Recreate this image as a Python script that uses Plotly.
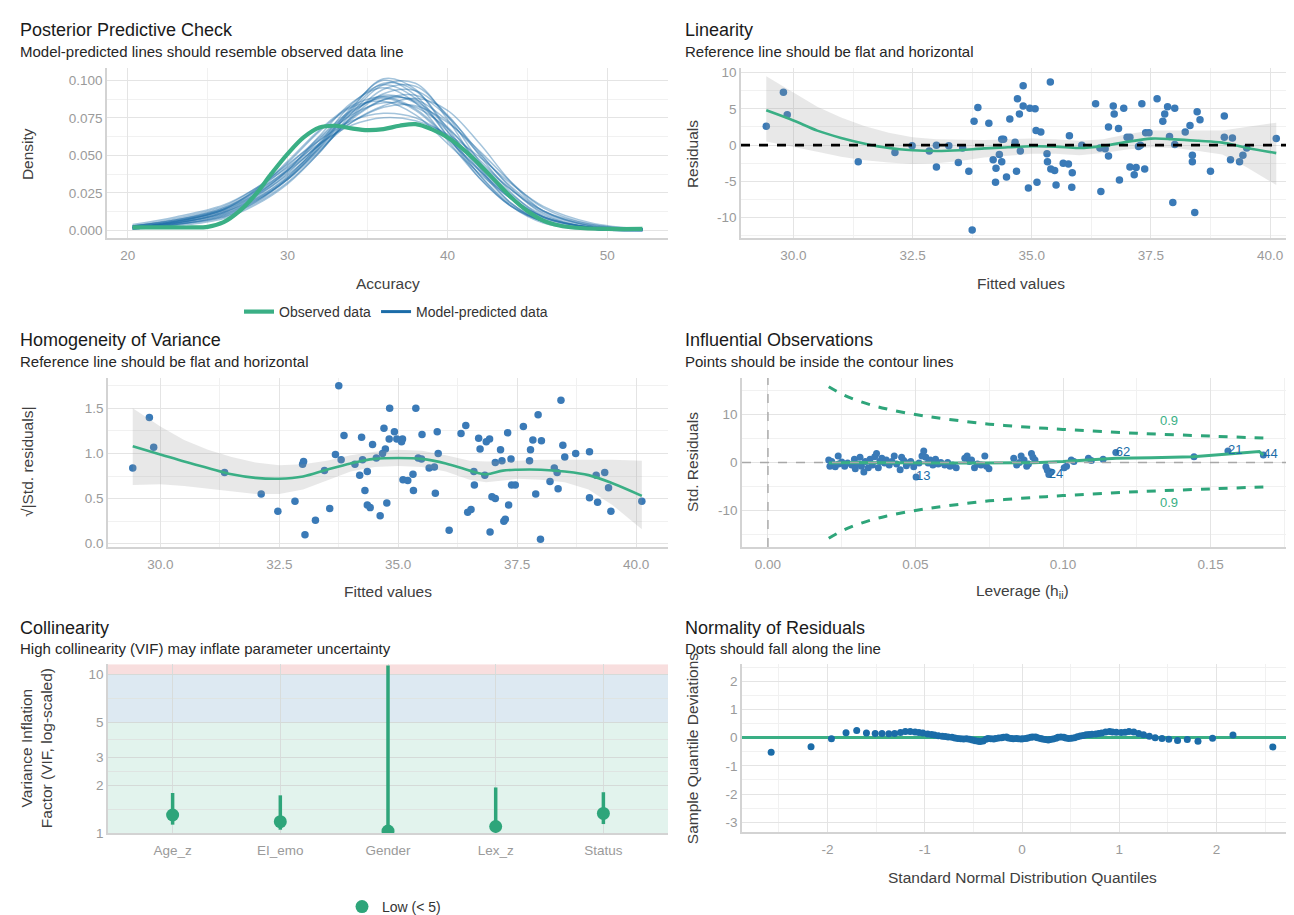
import plotly.graph_objects as go

W, H = 1294, 915
FONT = "Liberation Sans, Arial, sans-serif"
GREEN = "#3aaf85"
BLUE = "#1b6ca8"
PT = "#3a7ab7"

# ---------------- Panel 1: Posterior predictive check ----------------
obs_x = [20.3, 21, 22, 23, 24, 25, 26, 27, 28, 29, 30, 31, 32, 33, 34, 35, 36, 37, 38,
         39, 40, 41, 42, 43, 44, 45, 46, 47, 48, 50, 52.2]
obs_density = [0.002, 0.002, 0.002, 0.002, 0.002, 0.0024, 0.0055, 0.013, 0.024, 0.038,
               0.051, 0.062, 0.0686, 0.0697, 0.068, 0.0668, 0.0675, 0.0697, 0.0708, 0.0675,
               0.062, 0.054, 0.044, 0.033, 0.022, 0.013, 0.0066, 0.0033, 0.0018, 0.001, 0.001]
sim_x = [20.3, 23, 26, 28, 30, 32, 34, 36, 38, 40, 42, 44, 46, 49, 52.2]
sim_density = [
    [0.002, 0.005, 0.012, 0.022, 0.038, 0.058, 0.078, 0.090, 0.085, 0.066, 0.042, 0.022, 0.009, 0.002, 0.001],
    [0.003, 0.006, 0.014, 0.026, 0.043, 0.062, 0.080, 0.088, 0.080, 0.061, 0.040, 0.021, 0.009, 0.002, 0.001],
    [0.001, 0.004, 0.010, 0.020, 0.034, 0.055, 0.080, 0.098, 0.093, 0.068, 0.040, 0.018, 0.006, 0.001, 0.000],
    [0.002, 0.005, 0.011, 0.021, 0.036, 0.057, 0.082, 0.100, 0.090, 0.063, 0.035, 0.016, 0.006, 0.001, 0.000],
    [0.003, 0.008, 0.016, 0.028, 0.044, 0.060, 0.073, 0.078, 0.075, 0.063, 0.045, 0.027, 0.013, 0.004, 0.001],
    [0.002, 0.006, 0.013, 0.024, 0.040, 0.060, 0.077, 0.085, 0.082, 0.068, 0.047, 0.027, 0.012, 0.003, 0.001],
    [0.001, 0.004, 0.009, 0.018, 0.032, 0.052, 0.076, 0.094, 0.096, 0.076, 0.046, 0.021, 0.007, 0.001, 0.000],
    [0.002, 0.005, 0.012, 0.023, 0.040, 0.063, 0.085, 0.095, 0.085, 0.060, 0.035, 0.016, 0.006, 0.001, 0.000],
    [0.004, 0.009, 0.017, 0.028, 0.042, 0.058, 0.070, 0.075, 0.073, 0.064, 0.049, 0.031, 0.016, 0.005, 0.001],
    [0.001, 0.003, 0.008, 0.017, 0.031, 0.052, 0.078, 0.097, 0.098, 0.074, 0.042, 0.018, 0.006, 0.001, 0.000],
    [0.002, 0.006, 0.013, 0.023, 0.037, 0.055, 0.074, 0.087, 0.090, 0.076, 0.052, 0.028, 0.011, 0.002, 0.001],
    [0.003, 0.007, 0.015, 0.027, 0.045, 0.066, 0.082, 0.086, 0.077, 0.058, 0.038, 0.021, 0.009, 0.002, 0.001],
    [0.001, 0.004, 0.010, 0.019, 0.034, 0.056, 0.081, 0.101, 0.094, 0.066, 0.037, 0.016, 0.005, 0.001, 0.000],
    [0.002, 0.005, 0.012, 0.021, 0.035, 0.054, 0.072, 0.083, 0.088, 0.080, 0.058, 0.032, 0.013, 0.003, 0.001],
    [0.002, 0.006, 0.014, 0.025, 0.041, 0.061, 0.079, 0.089, 0.086, 0.069, 0.045, 0.024, 0.010, 0.002, 0.001],
    [0.003, 0.007, 0.015, 0.026, 0.040, 0.057, 0.072, 0.082, 0.083, 0.072, 0.053, 0.032, 0.015, 0.004, 0.001],
    [0.002, 0.006, 0.014, 0.027, 0.046, 0.067, 0.083, 0.089, 0.081, 0.062, 0.040, 0.021, 0.008, 0.002, 0.001],
    [0.001, 0.004, 0.009, 0.019, 0.035, 0.058, 0.084, 0.097, 0.088, 0.063, 0.037, 0.017, 0.006, 0.001, 0.000],
    [0.002, 0.005, 0.011, 0.020, 0.034, 0.053, 0.075, 0.091, 0.093, 0.077, 0.050, 0.025, 0.009, 0.002, 0.000],
    [0.003, 0.007, 0.014, 0.024, 0.039, 0.057, 0.075, 0.087, 0.087, 0.073, 0.051, 0.029, 0.013, 0.003, 0.001],
]

# ---------------- Panel 2: Linearity ----------------
lin_fitted = [29.43, 29.79, 29.87, 31.36, 32.13, 32.49, 32.85, 33.0, 33.0, 33.26,
              33.46, 33.55, 33.68, 33.79, 33.75, 33.87, 34.1, 34.19, 34.25, 34.24,
              34.32, 34.37, 34.37, 34.41, 34.47, 34.54, 34.65, 34.68, 34.70, 34.74,
              34.76, 34.82, 34.82, 34.93, 34.96, 35.07, 35.09, 35.11, 35.19, 35.32,
              35.33, 35.39, 35.40, 35.48, 35.51, 35.66, 35.79, 35.77, 35.85, 35.84,
              36.05, 36.34, 36.43, 36.45, 36.54, 36.61, 36.61, 36.71, 36.73, 36.82,
              36.84, 36.93, 37.0, 37.06, 37.06, 37.15, 37.19, 37.24, 37.28, 37.31,
              37.37, 37.39, 37.46, 37.63, 37.75, 37.79, 37.85, 37.89, 37.96, 38.0,
              38.0, 38.22, 38.32, 38.37, 38.37, 38.47, 38.53, 38.42, 38.75, 39.04,
              39.04, 39.17, 39.21, 39.36, 39.43, 39.51, 40.13]
lin_resid = [2.6, 7.3, 4.2, -2.3, -1.0, -0.1, -0.8, 0.0, -3.0, -0.1,
             -2.4, -0.4, -3.6, 3.3, -11.7, 5.2, 3.0, -2.0, -3.2, -5.1,
             -1.3, 0.8, -2.3, 0.8, -4.4, 3.6, 0.4, -3.6, 6.4, 4.3,
             -0.8, 5.4, 8.2, -5.9, 5.1, 5.0, 2.0, -5.1, 1.8, -1.2,
             -2.3, 8.7, -3.3, -3.5, -5.5, -2.5, 1.3, -2.6, -3.8, -5.8,
             0.0, 5.7, -0.4, -6.4, -0.5, -1.5, 2.5, 5.4, 4.3, 2.3,
             -4.8, 5.1, 1.1, -3.0, 1.1, -4.1, -3.1, -0.2, 0.0, 5.7,
             -3.3, 1.7, 1.7, 6.4, 3.3, 4.3, 5.3, 1.2, -7.9, 0.1,
             5.1, 1.8, 2.7, -1.4, -2.3, 4.6, 3.5, -9.3, -3.6, 4.0,
             1.1, -2.0, 1.0, -2.3, -1.4, -0.4, 0.9]
lin_smooth_x = [29.43, 30.0, 30.5, 31.0, 31.5, 32.0, 32.5, 33.0, 33.5, 34.0, 34.5,
                35.0, 35.5, 36.0, 36.5, 37.0, 37.5, 38.0, 38.5, 39.0, 39.5, 40.13]
lin_smooth_y = [4.8, 3.4, 2.0, 1.0, 0.2, -0.4, -0.7, -0.8, -0.7, -0.45, -0.3,
                -0.15, -0.2, -0.4, -0.1, 0.45, 0.9, 0.8, 0.6, 0.35, -0.35, -1.1]
lin_ci_hi = [9.5, 7.2, 5.3, 3.8, 2.6, 1.7, 1.1, 0.8, 0.7, 0.7, 0.8,
             0.9, 0.8, 0.6, 0.8, 1.5, 2.0, 2.0, 1.9, 2.0, 2.5, 3.1]
lin_ci_lo = [0.5, -0.2, -0.9, -1.6, -2.1, -2.4, -2.6, -2.5, -2.2, -1.7, -1.4,
             -1.2, -1.2, -1.4, -1.1, -0.6, -0.3, -0.4, -0.8, -1.3, -3.0, -5.5]

# ---------------- Panel 3: Homogeneity of variance ----------------
hom_fitted = [29.42, 29.77, 29.86, 31.35, 32.12, 32.47, 32.83, 32.99, 33.01, 33.04,
              33.26, 33.45, 33.56, 33.68, 33.75, 33.80, 33.86, 34.09, 34.19, 34.23,
              34.25, 34.30, 34.35, 34.35, 34.41, 34.46, 34.54, 34.62, 34.67, 34.70,
              34.73, 34.76, 34.81, 34.82, 34.92, 34.97, 35.07, 35.09, 35.10, 35.20,
              35.31, 35.32, 35.37, 35.42, 35.49, 35.50, 35.65, 35.76, 35.78, 35.82,
              35.84, 36.07, 36.32, 36.42, 36.46, 36.53, 36.59, 36.60, 36.69, 36.72,
              36.82, 36.85, 36.92, 36.93, 36.97, 37.04, 37.04, 37.15, 37.18, 37.22,
              37.25, 37.30, 37.32, 37.37, 37.38, 37.46, 37.63, 37.76, 37.78, 37.83,
              37.89, 37.94, 37.99, 38.01, 38.19, 38.28, 38.34, 38.36, 38.42, 38.46,
              38.50, 38.73, 39.02, 39.02, 39.16, 39.19, 39.34, 39.42, 39.47, 40.12]
hom_sqrt_res = [0.84, 1.40, 1.07, 0.79, 0.55, 0.36, 0.47, 0.88, 0.91, 0.10,
                0.26, 0.81, 0.39, 0.99, 1.75, 0.93, 1.20, 0.88, 0.76, 1.18,
                0.93, 0.59, 0.80, 0.43, 0.40, 1.10, 0.95, 0.31, 1.00, 1.28,
                1.05, 0.45, 1.16, 1.50, 1.24, 1.16, 1.13, 1.16, 0.71, 0.70,
                0.77, 0.59, 1.50, 0.95, 0.94, 1.21, 0.84, 0.85, 0.56, 1.24,
                1.00, 0.15, 1.22, 1.31, 0.35, 0.38, 0.80, 0.65, 1.17, 1.05,
                0.76, 1.13, 1.16, 0.13, 0.52, 0.50, 0.90, 1.04, 0.92, 0.25,
                0.27, 1.23, 0.43, 0.94, 0.65, 0.65, 1.30, 0.92, 1.04, 1.15,
                0.55, 1.43, 0.05, 1.14, 0.69, 0.84, 0.79, 0.61, 1.59, 1.09,
                0.96, 1.00, 1.02, 0.51, 0.76, 0.46, 0.79, 0.62, 0.36, 0.47]
hom_smooth_x = [29.42, 30.0, 30.5, 31.0, 31.5, 32.0, 32.5, 33.0, 33.5, 34.0, 34.5, 35.0,
                35.5, 36.0, 36.5, 36.85, 37.2, 37.5, 38.0, 38.5, 39.0, 39.5, 40.12]
hom_smooth_y = [1.08, 0.99, 0.91, 0.84, 0.77, 0.73, 0.72, 0.745, 0.82, 0.89, 0.94, 0.95,
                0.94, 0.89, 0.81, 0.77, 0.81, 0.82, 0.82, 0.80, 0.76, 0.67, 0.53]
hom_ci_hi = [1.50, 1.30, 1.15, 1.04, 0.96, 0.90, 0.87, 0.88, 0.92, 0.98, 1.02, 1.04,
             1.03, 0.98, 0.92, 0.91, 0.91, 0.92, 0.93, 0.93, 0.93, 0.93, 0.92]
hom_ci_lo = [0.65, 0.66, 0.64, 0.61, 0.58, 0.55, 0.55, 0.60, 0.70, 0.80, 0.85, 0.86,
             0.85, 0.80, 0.71, 0.68, 0.70, 0.72, 0.71, 0.68, 0.60, 0.43, 0.16]

# ---------------- Panel 4: Influential observations ----------------
leverage = [0.0206, 0.0210, 0.0216, 0.0228, 0.0238, 0.0240, 0.0250, 0.0260, 0.0270, 0.0284,
            0.0293, 0.0296, 0.0305, 0.0312, 0.0317, 0.0325, 0.0330, 0.0340, 0.0346, 0.0354,
            0.0362, 0.0368, 0.0374, 0.0379, 0.0386, 0.0395, 0.0401, 0.0411, 0.0420, 0.0428,
            0.0436, 0.0448, 0.0453, 0.0460, 0.0469, 0.0475, 0.0484, 0.0494, 0.0502, 0.0512,
            0.0522, 0.0528, 0.0535, 0.0543, 0.0550, 0.0559, 0.0568, 0.0577, 0.0586, 0.0599,
            0.0609, 0.0617, 0.0626, 0.0638, 0.0667, 0.0675, 0.0683, 0.0690, 0.0700, 0.0710,
            0.0722, 0.0735, 0.0741, 0.0749, 0.0833, 0.0843, 0.0852, 0.0858, 0.0868, 0.0877,
            0.0883, 0.0893, 0.0898, 0.0905, 0.0942, 0.0947, 0.0952, 0.0959, 0.1004, 0.1012,
            0.1028, 0.1037, 0.1086, 0.1096, 0.1136, 0.1179, 0.1444, 0.1559, 0.1679]
std_resid = [0.5, -0.8, 0.2, -0.9, 1.35, -0.3, 0.1, -0.8, -0.1, -0.5,
             0.7, -1.3, -0.3, 1.1, -0.8, -2.0, 0.2, -1.1, 0.7, -0.5,
             1.2, 1.9, -1.1, 0.2, 0.9, -0.1, 0.5, -0.5, 0.2, 1.35,
             -0.3, -1.5, 1.1, 0.4, -0.7, -0.1, 0.2, -0.9, -3.0, -0.1,
             1.35, 2.4, 1.1, -0.1, 0.5, -0.5, 0.7, -0.3, 0.0, -0.5,
             0.0, -0.8, -0.5, -1.1, 0.9, 1.35, 0.2, 0.5, -1.1, -0.3,
             -0.5, 1.35, -0.8, -1.3, 0.9, -0.5, 0.0, 1.35, 0.5, -0.8,
             -0.3, 1.9, 1.1, 0.5, -0.9, -1.6, -2.5, -2.0, -1.1, -0.8,
             0.5, 0.2, 0.9, 0.4, 0.7, 2.1, 1.2, 2.4, 1.55]
label_lev = [0.0502, 0.0952, 0.1179, 0.1559, 0.1679]
label_res = [-3.0, -2.5, 2.1, 2.4, 1.55]
label_ids = ["13", "24", "62", "21", "44"]
infl_smooth_x = [0.0206, 0.03, 0.04, 0.05, 0.06, 0.07, 0.08, 0.09, 0.10, 0.11, 0.118,
                 0.13, 0.144, 0.156, 0.1665, 0.1679]
infl_smooth_y = [-0.1, 0.0, -0.05, -0.15, -0.1, -0.1, -0.1, -0.05, 0.2, 0.6, 0.9,
                 1.0, 1.2, 1.75, 2.3, 1.55]
contour_lev = [0.0206, 0.025, 0.03, 0.035, 0.04, 0.05, 0.06, 0.075, 0.09, 0.10, 0.125, 0.15, 0.1679]
contour_upper = [15.8, 14.3, 13.0, 12.0, 11.2, 10.0, 9.1, 8.0, 7.3, 6.9, 6.1, 5.5, 5.1]
contour_lower = [-15.8, -14.3, -13.0, -12.0, -11.2, -10.0, -9.1, -8.0, -7.3, -6.9, -6.1, -5.5, -5.1]
contour_label = "0.9"

# ---------------- Panel 5: Collinearity ----------------
terms = ["Age_z", "EI_emo", "Gender", "Lex_z", "Status"]
vif = [1.30, 1.18, 1.03, 1.10, 1.33]
vif_lo = [1.13, 1.05, 1.00, 1.02, 1.14]
vif_hi = [1.79, 1.73, 11.4, 1.94, 1.81]

# ---------------- Panel 6: Normality of residuals (detrended QQ) ----------------
qq_theoretical = [-2.58, -2.17, -1.96, -1.81, -1.70, -1.60, -1.51, -1.44, -1.37, -1.31,
                  -1.25, -1.20, -1.15, -1.10, -1.06, -1.02, -0.97, -0.93, -0.90, -0.86,
                  -0.82, -0.79, -0.76, -0.72, -0.69, -0.66, -0.63, -0.60, -0.57, -0.54,
                  -0.51, -0.48, -0.45, -0.43, -0.40, -0.37, -0.35, -0.32, -0.29, -0.27,
                  -0.24, -0.21, -0.19, -0.16, -0.14, -0.11, -0.09, -0.06, -0.04, -0.01,
                  0.01, 0.04, 0.06, 0.09, 0.11, 0.14, 0.16, 0.19, 0.21, 0.24,
                  0.27, 0.29, 0.32, 0.35, 0.37, 0.40, 0.43, 0.45, 0.48, 0.51,
                  0.54, 0.57, 0.60, 0.63, 0.66, 0.69, 0.72, 0.76, 0.79, 0.82,
                  0.86, 0.90, 0.93, 0.97, 1.02, 1.06, 1.10, 1.15, 1.20, 1.25,
                  1.31, 1.37, 1.44, 1.51, 1.60, 1.70, 1.81, 1.96, 2.17, 2.58]
qq_deviation = [-0.52, -0.32, -0.04, 0.17, 0.25, 0.16, 0.15, 0.15, 0.14, 0.15,
                0.18, 0.22, 0.22, 0.20, 0.18, 0.16, 0.13, 0.11, 0.09, 0.07,
                0.05, 0.04, 0.02, 0.01, -0.01, -0.03, -0.04, -0.05, -0.04, -0.06,
                -0.08, -0.11, -0.13, -0.14, -0.12, -0.06, -0.03, -0.04, -0.05, -0.03,
                -0.01, 0.00, 0.01, 0.02, -0.01, -0.03, -0.04, -0.03, -0.04, -0.05,
                -0.04, -0.03, -0.01, 0.01, 0.02, 0.02, 0.00, -0.03, -0.05, -0.07,
                -0.08, -0.07, -0.05, -0.02, 0.01, 0.02, 0.01, -0.01, -0.03, -0.02,
                0.00, 0.03, 0.06, 0.08, 0.10, 0.11, 0.12, 0.13, 0.15, 0.16,
                0.20, 0.22, 0.20, 0.19, 0.18, 0.19, 0.22, 0.20, 0.15, 0.10,
                0.05, 0.00, -0.03, -0.06, -0.10, -0.07, -0.13, -0.02, 0.09, -0.33]

# =====================================================================
def X(p):
    return p / W


def Y(p):
    return 1 - p / H


fig = go.Figure()

# Panel 1
for dens in sim_density:
    fig.add_trace(go.Scatter(x=sim_x, y=dens, mode="lines", xaxis="x", yaxis="y",
                             line=dict(color="rgba(27,108,168,0.4)", width=1.5, shape="spline"),
                             showlegend=False, hoverinfo="skip"))
fig.add_trace(go.Scatter(x=obs_x, y=obs_density, mode="lines", xaxis="x", yaxis="y",
                         line=dict(color=GREEN, width=4.2, shape="spline"),
                         name="Observed data", legend="legend", legendrank=1))
fig.add_trace(go.Scatter(x=[None], y=[None], mode="lines", xaxis="x", yaxis="y",
                         line=dict(color=BLUE, width=3), name="Model-predicted data",
                         legend="legend", legendrank=2))

# Panel 2
fig.add_trace(go.Scatter(x=lin_fitted, y=lin_resid, mode="markers", xaxis="x2", yaxis="y2",
                         marker=dict(color=PT, size=7.5), showlegend=False))
fig.add_trace(go.Scatter(x=lin_smooth_x, y=lin_ci_hi, mode="lines", xaxis="x2", yaxis="y2",
                         line=dict(width=0), showlegend=False, hoverinfo="skip"))
fig.add_trace(go.Scatter(x=lin_smooth_x, y=lin_ci_lo, mode="lines", xaxis="x2", yaxis="y2",
                         line=dict(width=0), fill="tonexty", fillcolor="rgba(150,150,150,0.22)",
                         showlegend=False, hoverinfo="skip"))
fig.add_trace(go.Scatter(x=lin_smooth_x, y=lin_smooth_y, mode="lines", xaxis="x2", yaxis="y2",
                         line=dict(color=GREEN, width=2.6, shape="spline"), showlegend=False))

# Panel 3
fig.add_trace(go.Scatter(x=hom_fitted, y=hom_sqrt_res, mode="markers", xaxis="x3", yaxis="y3",
                         marker=dict(color=PT, size=7.5), showlegend=False))
fig.add_trace(go.Scatter(x=hom_smooth_x, y=hom_ci_hi, mode="lines", xaxis="x3", yaxis="y3",
                         line=dict(width=0), showlegend=False, hoverinfo="skip"))
fig.add_trace(go.Scatter(x=hom_smooth_x, y=hom_ci_lo, mode="lines", xaxis="x3", yaxis="y3",
                         line=dict(width=0), fill="tonexty", fillcolor="rgba(150,150,150,0.22)",
                         showlegend=False, hoverinfo="skip"))
fig.add_trace(go.Scatter(x=hom_smooth_x, y=hom_smooth_y, mode="lines", xaxis="x3", yaxis="y3",
                         line=dict(color=GREEN, width=2.6, shape="spline"), showlegend=False))

# Panel 4
for cy in (contour_upper, contour_lower):
    fig.add_trace(go.Scatter(x=contour_lev, y=cy, mode="lines", xaxis="x4", yaxis="y4",
                             line=dict(color="#2ea57a", width=3, dash="dash", shape="spline"),
                             showlegend=False))
fig.add_trace(go.Scatter(x=leverage, y=std_resid, mode="markers", xaxis="x4", yaxis="y4",
                         marker=dict(color=PT, size=7), showlegend=False))
fig.add_trace(go.Scatter(x=infl_smooth_x, y=infl_smooth_y, mode="lines", xaxis="x4", yaxis="y4",
                         line=dict(color=GREEN, width=3), showlegend=False))
fig.add_trace(go.Scatter(x=label_lev, y=label_res, mode="text", text=label_ids,
                         textposition="middle right", xaxis="x4", yaxis="y4",
                         textfont=dict(family=FONT, size=13, color=BLUE), showlegend=False))

# Panel 5
err_plus = [h - v for h, v in zip(vif_hi, vif)]
err_minus = [v - lo for v, lo in zip(vif, vif_lo)]
fig.add_trace(go.Scatter(x=terms, y=vif, mode="markers", xaxis="x5", yaxis="y5",
                         marker=dict(color="#2ea57a", size=13),
                         error_y=dict(type="data", array=err_plus, arrayminus=err_minus,
                                      color="#2ea57a", thickness=3.5, width=0),
                         name="Low (< 5)", legend="legend2"))

# Panel 6
fig.add_trace(go.Scatter(x=qq_theoretical, y=qq_deviation, mode="markers", xaxis="x6", yaxis="y6",
                         marker=dict(color=BLUE, size=7), showlegend=False))

# ---------------- axes ----------------
TICKF = dict(family=FONT, size=13.5, color="#9a9a9a")


def axis(dom, rng, anchor, dtick=None, mdtick=None, fmt=None, vals=None, **kw):
    d = dict(domain=dom, range=rng, anchor=anchor, showline=True, linecolor="#d3d3d3",
             linewidth=1.6, showgrid=True, gridcolor="#e4e4e4", gridwidth=1.1, zeroline=False,
             ticks="", tickfont=TICKF)
    if vals is not None:
        d["tickmode"] = "array"
        d["tickvals"] = vals
        d["ticktext"] = [str(v) for v in vals]   # ASCII hyphen minus like ggplot
    elif dtick is not None:
        d["dtick"] = dtick
        d["tick0"] = 0
    if mdtick is not None:
        d["minor"] = dict(showgrid=True, gridcolor="#f1f1f1", gridwidth=1, dtick=mdtick, tick0=0)
    if fmt:
        d["tickformat"] = fmt
    d.update(kw)
    return d


def xd(a, b):
    return [X(a), X(b)]


def yd(top, bottom):
    return [Y(bottom), Y(top)]


layout = dict(
    width=W, height=H, margin=dict(l=0, r=0, t=0, b=0),
    paper_bgcolor="white", plot_bgcolor="white",
    font=dict(family=FONT, color="#333333"),
    xaxis=axis(xd(99, 660), [18.7, 53.8], "y", dtick=10, mdtick=5, ticklabelstandoff=4),
    yaxis=axis(yd(58, 230), [-0.005, 0.108], "x", dtick=0.025, mdtick=0.0125, fmt=".3f"),
    xaxis2=axis(xd(733, 1294), [28.9, 40.67], "y2", dtick=2.5, mdtick=1.25, fmt=".1f",
                ticklabelstandoff=4),
    yaxis2=axis(yd(58, 230), [-12.8, 10.6], "x2", vals=[-10, -5, 0, 5, 10], mdtick=2.5),
    xaxis3=axis(xd(100, 660), [28.9, 40.67], "y3", dtick=2.5, mdtick=1.25, fmt=".1f",
                ticklabelstandoff=4),
    yaxis3=axis(yd(372, 543), [-0.035, 1.835], "x3", dtick=0.5, mdtick=0.25, fmt=".1f"),
    xaxis4=axis(xd(734, 1294), [-0.0088, 0.181], "y4", dtick=0.05, mdtick=0.025, fmt=".2f",
                ticklabelstandoff=4),
    yaxis4=axis(yd(372, 543), [-17.6, 17.6], "x4", vals=[-10, 0, 10], mdtick=5),
    xaxis5=axis(xd(100, 660), [-0.6, 4.6], "y5", type="category",
                categoryorder="array", categoryarray=terms, gridcolor="#d8dcdb", gridwidth=0.8,
                ticklabelstandoff=4),
    yaxis5=axis(yd(662, 833), [0, 1.0645], "x5", type="log", tickmode="array",
                tickvals=[1, 2, 3, 5, 10], ticktext=["1", "2", "3", "5", "10"],
                gridcolor="#d5dad8",
                minor=dict(showgrid=True, tickmode="array", tickvals=[1.414, 2.449, 3.873, 7.071],
                           gridcolor="#dfe4e2", gridwidth=1)),
    xaxis6=axis(xd(734, 1294), [-2.88, 2.88], "y6", vals=[-2, -1, 0, 1, 2], mdtick=0.5,
                ticklabelstandoff=4),
    yaxis6=axis(yd(662, 832), [-3.35, 2.6], "x6", vals=[-3, -2, -1, 0, 1, 2], mdtick=0.5,
                zeroline=True, zerolinecolor=GREEN, zerolinewidth=3.2),
    legend=dict(orientation="h", x=X(388), y=Y(305), xanchor="center", yanchor="middle",
                font=dict(family=FONT, size=14, color="#333333"), bgcolor="rgba(0,0,0,0)",
                itemwidth=30, traceorder="normal"),
    legend2=dict(orientation="h", x=X(386), y=Y(908), xanchor="center", yanchor="middle",
                 font=dict(family=FONT, size=14, color="#333333"), bgcolor="rgba(0,0,0,0)",
                 itemwidth=30),
)
fig.update_layout(**layout)

# ---------------- shapes ----------------
shapes = [
    # linearity reference line
    dict(type="line", xref="x2 domain", yref="y2", x0=0, x1=1, y0=0, y1=0,
         line=dict(color="black", width=2.6, dash="dash"), layer="above"),
    # influence reference lines
    dict(type="line", xref="x4 domain", yref="y4", x0=0, x1=1, y0=0, y1=0,
         line=dict(color="#a8a8a8", width=1.4, dash="dash"), layer="above"),
    dict(type="line", xref="x4", yref="y4 domain", x0=0, x1=0, y0=0, y1=1,
         line=dict(color="#a8a8a8", width=1.4, dash="dash"), layer="above"),
    # collinearity zones
    dict(type="rect", xref="x5 domain", yref="y5", x0=0, x1=1, y0=1, y1=5,
         fillcolor="rgba(58,175,133,0.15)", line=dict(width=0), layer="below"),
    dict(type="rect", xref="x5 domain", yref="y5", x0=0, x1=1, y0=5, y1=10,
         fillcolor="rgba(27,108,168,0.15)", line=dict(width=0), layer="below"),
    dict(type="rect", xref="x5 domain", yref="y5", x0=0, x1=1, y0=10, y1=11.6,
         fillcolor="rgba(205,32,31,0.15)", line=dict(width=0), layer="below"),
]
fig.update_layout(shapes=shapes)

# ---------------- annotations ----------------
TITLE = dict(family=FONT, size=18, color="#1a1a1a")
SUB = dict(family=FONT, size=15, color="#262626")
AXT = dict(family=FONT, size=15.5, color="#404040")


def ann(text, x, y, font, xanchor="left", angle=0):
    return dict(text=text, x=X(x), y=Y(y), xref="paper", yref="paper", showarrow=False,
                xanchor=xanchor, yanchor="middle", font=font, textangle=angle)


annotations = [
    ann("Posterior Predictive Check", 10, 19, TITLE),
    ann("Model-predicted lines should resemble observed data line", 10, 41, SUB),
    ann("Linearity", 675, 19, TITLE),
    ann("Reference line should be flat and horizontal", 675, 41, SUB),
    ann("Homogeneity of Variance", 10, 333, TITLE),
    ann("Reference line should be flat and horizontal", 10, 355, SUB),
    ann("Influential Observations", 675, 333, TITLE),
    ann("Points should be inside the contour lines", 675, 355, SUB),
    ann("Collinearity", 10, 625, TITLE),
    ann("High collinearity (VIF) may inflate parameter uncertainty", 10, 646, SUB),
    ann("Normality of Residuals", 675, 625, TITLE),
    ann("Dots should fall along the line", 675, 646, SUB),
    # axis titles
    ann("Density", 19, 145, AXT, "center", -90),
    ann("Accuracy", 380, 276, AXT, "center"),
    ann("Residuals", 684, 145, AXT, "center", -90),
    ann("Fitted values", 1013, 276, AXT, "center"),
    ann("√|Std. residuals|", 19, 457, AXT, "center", -90),
    ann("Fitted values", 380, 588, AXT, "center"),
    ann("Std. Residuals", 684, 457, AXT, "center", -90),
    ann("Leverage (h<sub>ii</sub>)", 1014, 588, AXT, "center"),
    ann("Variance Inflation<br>Factor (VIF, log-scaled)", 28, 747, AXT, "center", -90),
    ann("Sample Quantile Deviations", 684, 747, AXT, "center", -90),
    ann("Standard Normal Distribution Quantiles", 1014, 878, AXT, "center"),
    # contour labels
    dict(text=contour_label, x=0.1358, y=8.8, xref="x4", yref="y4", showarrow=False,
         font=dict(family=FONT, size=13, color=GREEN)),
    dict(text=contour_label, x=0.1358, y=-8.3, xref="x4", yref="y4", showarrow=False,
         font=dict(family=FONT, size=13, color=GREEN)),
]
fig.update_layout(annotations=annotations)

fig.write_html("out.html")
